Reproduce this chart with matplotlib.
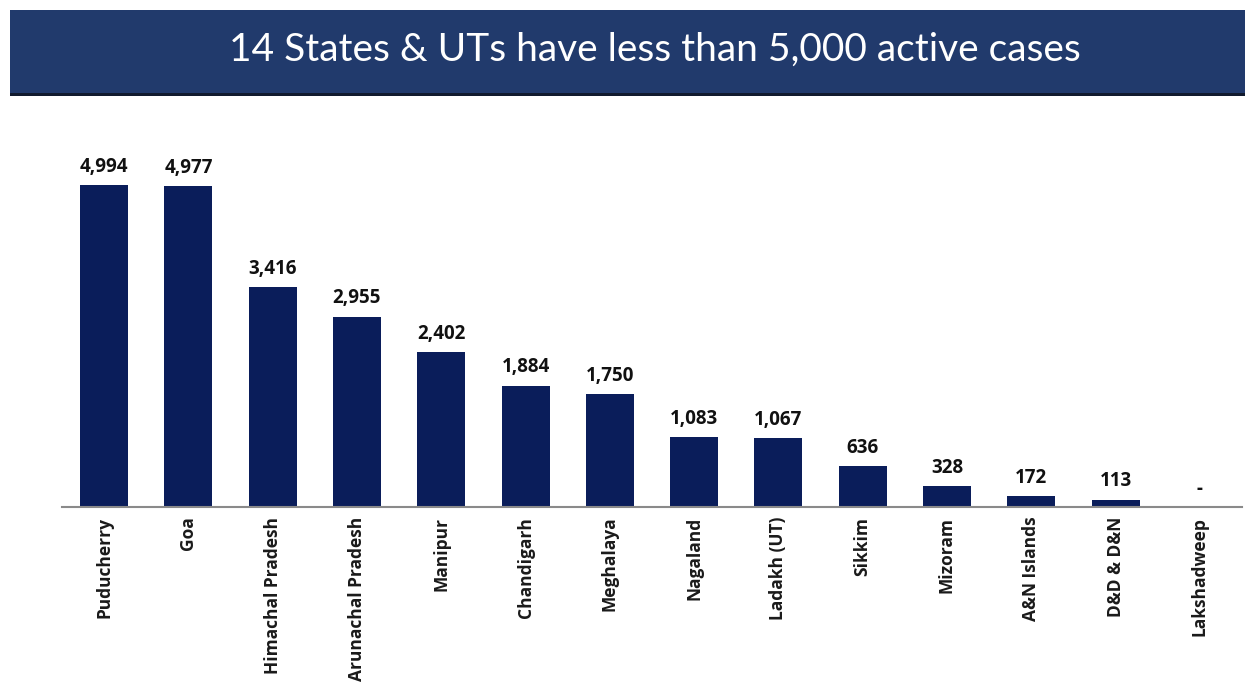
import matplotlib
matplotlib.use("Agg")
import matplotlib.pyplot as plt
from matplotlib.patches import Rectangle

categories = ["Puducherry", "Goa", "Himachal Pradesh", "Arunachal Pradesh", "Manipur",
              "Chandigarh", "Meghalaya", "Nagaland", "Ladakh (UT)", "Sikkim",
              "Mizoram", "A&N Islands", "D&D & D&N", "Lakshadweep"]
values = [4994, 4977, 3416, 2955, 2402, 1884, 1750, 1083, 1067, 636, 328, 172, 113, 0]
value_labels = ["4,994", "4,977", "3,416", "2,955", "2,402", "1,884", "1,750",
                "1,083", "1,067", "636", "328", "172", "113", "-"]
title = "14 States & UTs have less than 5,000 active cases"

W, H = 1245, 696
fig = plt.figure(figsize=(W / 100, H / 100), dpi=100)
fig.patch.set_facecolor("white")

# Title banner
fig.patches.append(Rectangle((10 / W, 1 - 94 / H), 1 - 10 / W, 84 / H,
                             transform=fig.transFigure, facecolor="#213a6c",
                             edgecolor="none", zorder=0))
fig.patches.append(Rectangle((10 / W, 1 - 96 / H), 1 - 10 / W, 3 / H,
                             transform=fig.transFigure, facecolor="#111a2e",
                             edgecolor="none", zorder=0))
fig.text(655 / W, 1 - 50 / H, title, color="white", fontsize=28,
         family=["Lato", "DejaVu Sans"], ha="center", va="center")

ax = fig.add_axes([62 / W, (H - 507) / H, 1180 / W, 377 / H])
x = list(range(len(categories)))
bars = ax.bar(x, values, width=0.57, color="#0a1d5a", zorder=2)
ax.set_xlim(-0.5, len(categories) - 0.5)
ax.set_ylim(0, 5850)

for xi, v, lab in zip(x, values, value_labels):
    ax.annotate(lab, (xi, v), xytext=(0, 6), textcoords="offset points",
                ha="center", va="bottom", fontsize=13.5, fontweight="bold",
                color="#111111", family=["Open Sans", "DejaVu Sans"])

ax.set_xticks(x)
ax.set_xticklabels(categories, rotation=90, fontsize=12.5, fontweight="bold",
                   color="#1a1a1a", family=["Open Sans", "DejaVu Sans"])
ax.tick_params(axis="x", length=0, pad=7)
ax.set_yticks([])
for s in ["top", "right", "left"]:
    ax.spines[s].set_visible(False)
ax.spines["bottom"].set_color("#8a8a8a")
ax.spines["bottom"].set_linewidth(1.5)
ax.set_facecolor("none")

fig.savefig("out.png", dpi=100)
